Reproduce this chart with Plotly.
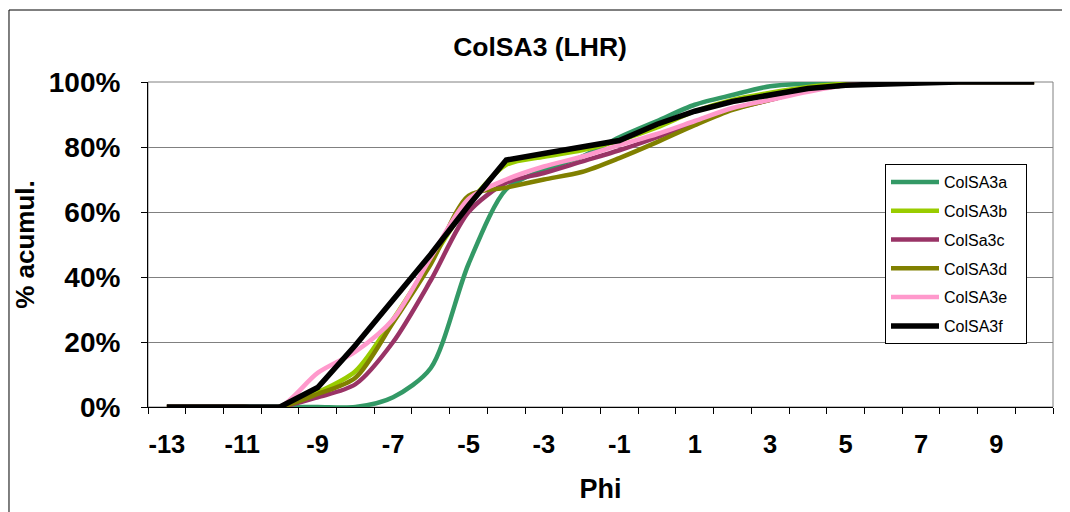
import plotly.graph_objects as go

# Phi categories (-13 .. 10)
phi = list(range(-13, 11))

# cumulative % (0-100)
colsa3a = [0, 0, 0, 0, 0, 0, 3, 12, 44, 67, 73, 77, 83, 88, 93, 96, 98.7, 99.5, 100, 100, 100, 100, 100, 100]
colsa3b = [0, 0, 0, 0, 4.5, 11, 27, 45, 62.5, 74.5, 77, 79, 82, 86, 91, 94.5, 96.7, 98.5, 99.5, 100, 100, 100, 100, 100]
colsa3c = [0, 0, 0, 0, 3, 7, 20, 39, 60, 69, 72, 75.5, 79, 83, 87.7, 91.7, 94.5, 97.5, 99, 100, 100, 100, 100, 100]
colsa3d = [0, 0, 0, 0, 4, 9, 26, 44, 65, 67.5, 70, 72.3, 76.6, 81.5, 86.7, 91.4, 94.5, 97.5, 99, 100, 100, 100, 100, 100]
colsa3e = [0, 0, 0, 0, 10.5, 17, 27, 46, 64, 70, 74, 77, 80.6, 84, 88, 92, 94.5, 97, 99, 99.7, 100, 100, 100, 100]
colsa3f = [0, 0, 0, 0, 6, 19, 33, 47, 62, 76, 78, 80, 82, 87, 91, 94, 96, 98, 99, 99.5, 99.7, 100, 100, 100]

series = [
    ("ColSA3a", colsa3a, "#339966", 4.5),
    ("ColSA3b", colsa3b, "#99CC00", 4.5),
    ("ColSa3c", colsa3c, "#993366", 4.5),
    ("ColSA3d", colsa3d, "#808000", 4.5),
    ("ColSA3e", colsa3e, "#FF99CC", 4.5),
    ("ColSA3f", colsa3f, "#000000", 5.5),
]

x_ticks = list(range(-13, 10, 2))
y_ticks = [0, 20, 40, 60, 80, 100]

FONT = "Arial, Liberation Sans, sans-serif"

# the page body has an 8px margin, so the figure is a bit smaller than the window
W, H = 1062, 504
OFF = 8

fig = go.Figure()

for i, (name, vals, color, w) in enumerate(series):
    shape = "linear" if name == "ColSA3f" else "spline"
    fig.add_trace(go.Scatter(
        x=phi,
        y=[v / 100 for v in vals],
        mode="lines",
        name=name + "\u00a0" * 3,
        legendgroup=f"g{i}",
        line=dict(color=color, width=w, shape=shape, smoothing=0.8),
    ))

# plot area border (grey) and outer chart border
fig.add_shape(type="rect", xref="paper", yref="paper", x0=0, x1=1, y0=0, y1=1,
              line=dict(color="#808080", width=1), layer="below")
fig.add_shape(type="rect", xref="paper", yref="paper", x0=-0.1536, x1=1.0144, y0=-0.34, y1=1.2215,
              line=dict(color="#000000", width=1))

fig.update_layout(
    width=W,
    height=H,
    margin=dict(l=148 - OFF, r=17, t=82 - OFF, b=H + OFF - 407),
    paper_bgcolor="white",
    plot_bgcolor="white",
    font=dict(family=FONT, color="black"),
    title=dict(text="<b>ColSA3 (LHR)</b>", x=(540 - OFF) / W, xanchor="center",
               y=1 - (47 - OFF) / H, yanchor="middle", font=dict(size=26.5)),
    showlegend=True,
    legend=dict(
        x=(885 - 148) / 905, y=(407 - 164) / 325, xanchor="left", yanchor="top",
        bordercolor="black", borderwidth=1, bgcolor="white",
        font=dict(size=16, family=FONT),
        tracegroupgap=5,
        itemwidth=48,
    ),
    xaxis=dict(
        range=[-13.5, 10.5],
        tickmode="array",
        tickvals=x_ticks,
        ticktext=[f"<b>{t}</b>" for t in x_ticks],
        ticks="",
        showgrid=False,
        zeroline=False,
        showline=True,
        linecolor="black",
        linewidth=1,
        automargin=False,
        tickfont=dict(size=25.5, family=FONT),
        ticklabelstandoff=14,
        minor=dict(tick0=-13.5, dtick=1, ticks="outside", ticklen=6, tickcolor="black", showgrid=False),
        title=dict(text="<b>Phi</b>", font=dict(size=27), standoff=22),
    ),
    yaxis=dict(
        range=[0, 1],
        tickmode="array",
        tickvals=[v / 100 for v in y_ticks],
        ticktext=[f"<b>{v}%</b>" for v in y_ticks],
        ticks="outside",
        ticklen=6,
        tickcolor="black",
        showgrid=True,
        gridcolor="#808080",
        gridwidth=1,
        zeroline=False,
        showline=True,
        linecolor="black",
        linewidth=1,
        automargin=False,
        tickfont=dict(size=28, family=FONT),
        ticklabelstandoff=15,
        title=dict(text="<b>% acumul.</b>", font=dict(size=26), standoff=6),
    ),
)

fig.write_html("out.html")
